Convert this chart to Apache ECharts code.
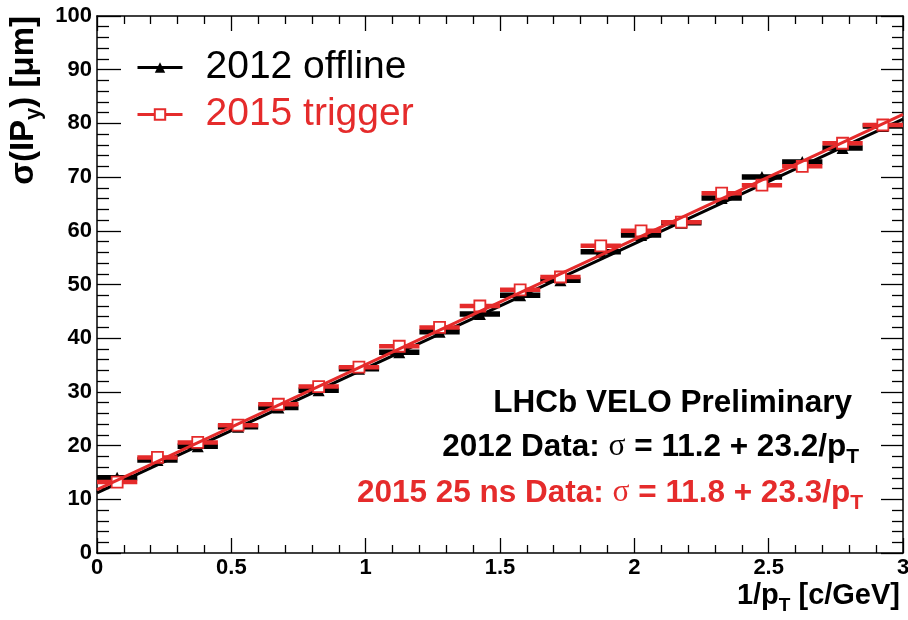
<!DOCTYPE html>
<html><head><meta charset="utf-8">
<script src="https://cdn.jsdelivr.net/npm/echarts@6/dist/echarts.min.js"></script>
<style>html,body{margin:0;padding:0;background:#fff}#c{width:908px;height:620px}</style>
</head><body><div id="c"></div>
<script>
// ---- data ----
const binCenters = [0.075,0.225,0.375,0.525,0.675,0.825,0.975,1.125,1.275,1.425,1.575,1.725,1.875,2.025,2.175,2.325,2.475,2.625,2.775,2.925];
const binHalfWidth = 0.075;
const offline2012 = [14.0,17.3,19.9,23.5,27.1,30.3,34.3,37.4,41.2,44.5,48.0,50.8,56.1,59.2,61.5,66.1,70.0,72.8,75.4,79.5];
const trigger2015 = [13.2,17.8,20.6,23.8,27.7,31.0,34.6,38.5,42.0,46.0,49.0,51.4,57.2,60.0,61.6,67.0,68.5,72.0,76.3,79.7];
const fit2012 = [[0,11.2],[3,80.8]];
const fit2015 = [[0,11.8],[3,81.7]];
const xRange = [0,3], xStep = 0.5;
const yRange = [0,100], yStep = 10;
const seriesNames = ['2012 offline','2015 trigger'];

const BLACK = '#000000', RED = '#e52b2b';
const FF = '"Liberation Sans", Arial, Helvetica, sans-serif';

const pts = (xs, ys) => xs.map((x,i)=>[x, ys[i]]);

function errBars(color, lw){
  return function(params, api){
    const x = api.value(0), y = api.value(1);
    const p1 = api.coord([x-binHalfWidth, y]);
    const p2 = api.coord([x+binHalfWidth, y]);
    return {type:'line', shape:{x1:p1[0],y1:p1[1],x2:p2[0],y2:p2[1]}, style:{stroke:color, lineWidth:lw}};
  };
}

// text measuring for sub-scripts
const cv = document.createElement('canvas').getContext('2d');
function tw(t, font){ cv.font = font; return cv.measureText(t).width; }
function composite(parts, x, yc, align){
  const ws = parts.map(p=>tw(p.t, p.font));
  const tot = ws.reduce((a,b)=>a+b,0);
  let cur = align==='right' ? x - tot : x;
  const els = [];
  parts.forEach((p,i)=>{
    els.push({type:'text', x:cur, y:yc+(p.dy||0), silent:true,
      style:{text:p.t, font:p.font, fill:p.color, align:'left', verticalAlign:'middle'}});
    cur += ws[i];
  });
  return {els, tot};
}

const annFont = 'bold 31.5px ' + FF;
const annSub = 'bold 21px ' + FF;
const sigFont = '31.5px "Liberation Serif", serif';
const line1 = composite([{t:'LHCb VELO Preliminary', font:annFont, color:BLACK}], 852, 403, 'right');
const line2 = composite([
  {t:'2012 Data: ', font:annFont, color:BLACK},
  {t:'\u03c3', font:sigFont, color:BLACK},
  {t:' = 11.2 + 23.2/p', font:annFont, color:BLACK},
  {t:'T', font:annSub, color:BLACK, dy:10}], 859, 447, 'right');
const line3 = composite([
  {t:'2015 25 ns Data: ', font:annFont, color:RED},
  {t:'\u03c3', font:sigFont, color:RED},
  {t:' = 11.8 + 23.3/p', font:annFont, color:RED},
  {t:'T', font:annSub, color:RED, dy:10}], 863, 493, 'right');

const xtFont = 'bold 29px ' + FF, xtSub = 'bold 19px ' + FF;
const xTitle = composite([
  {t:'1/p', font:xtFont, color:BLACK},
  {t:'T', font:xtSub, color:BLACK, dy:10},
  {t:' [c/GeV]', font:xtFont, color:BLACK}], 900, 596, 'right');

const ytFont = 'bold 33px ' + FF, ytSub = 'bold 22px ' + FF;
const yParts = [
  {t:'\u03c3(IP', font:ytFont, color:BLACK},
  {t:'y', font:ytSub, color:BLACK, dy:10},
  {t:') [\u03bcm]', font:ytFont, color:BLACK}];
const yT = composite(yParts, 0, 0, 'left');
const yTitleGroup = {type:'group', x:24, y:16 + yT.tot, rotation:Math.PI/2, children:yT.els};

const axisCommon = {
  axisLine:{show:true, onZero:false, lineStyle:{color:BLACK, width:1.5}},
  splitLine:{show:false},
  minorSplitLine:{show:false}
};

const option = {
  animation:false,
  backgroundColor:'#fff',
  grid:{left:97, right:5, top:16, bottom:67, containLabel:false, outerBoundsMode:'none'},
  xAxis:[
    Object.assign({type:'value', min:xRange[0], max:xRange[1], interval:xStep, position:'bottom',
      axisTick:{inside:true, length:15, lineStyle:{color:BLACK, width:1.3}},
      minorTick:{show:true, splitNumber:5, length:8, lineStyle:{color:BLACK, width:1.3}},
      axisLabel:{margin:4, color:BLACK, fontSize:22, fontWeight:'bold', fontFamily:FF,
        formatter:v=>String(+v.toFixed(1))}}, axisCommon),
    Object.assign({type:'value', min:xRange[0], max:xRange[1], interval:xStep, position:'top',
      axisTick:{inside:true, length:15, lineStyle:{color:BLACK, width:1.3}},
      minorTick:{show:true, splitNumber:5, length:8, lineStyle:{color:BLACK, width:1.3}},
      axisLabel:{show:false}}, axisCommon)
  ],
  yAxis:[
    Object.assign({type:'value', min:yRange[0], max:yRange[1], interval:yStep, position:'left',
      axisTick:{inside:true, length:24, lineStyle:{color:BLACK, width:1.3}},
      minorTick:{show:true, splitNumber:5, length:12, lineStyle:{color:BLACK, width:1.3}},
      axisLabel:{margin:5, color:BLACK, fontSize:22, fontWeight:'bold', fontFamily:FF}}, axisCommon),
    Object.assign({type:'value', min:yRange[0], max:yRange[1], interval:yStep, position:'right',
      axisTick:{inside:true, length:22, lineStyle:{color:BLACK, width:1.3}},
      minorTick:{show:true, splitNumber:5, length:11, lineStyle:{color:BLACK, width:1.3}},
      axisLabel:{show:false}}, axisCommon)
  ],
  legend:{
    orient:'vertical', left:131, top:43, itemWidth:45, itemHeight:13, itemGap:8,
    selectedMode:false,
    textStyle:{fontSize:39, fontFamily:FF, padding:[0,0,0,18]},
    data:[
      {name:seriesNames[0], textStyle:{color:BLACK}, lineStyle:{width:3, color:BLACK, opacity:1}},
      {name:seriesNames[1], textStyle:{color:RED}, lineStyle:{width:3, color:RED, opacity:1}}
    ]
  },
  series:[
    {type:'custom', name:'err2012', renderItem:errBars(BLACK,5.5), data:pts(binCenters, offline2012), z:2, silent:true},
    {type:'line', name:seriesNames[0], data:pts(binCenters, offline2012), symbol:'triangle', symbolSize:12,
      itemStyle:{color:BLACK}, lineStyle:{width:0, color:BLACK}, z:3, silent:true},
    {type:'line', name:'fit2012', data:fit2012, symbol:'none', lineStyle:{color:BLACK, width:3}, z:4, silent:true},
    {type:'custom', name:'err2015', renderItem:errBars(RED,4.5), data:pts(binCenters, trigger2015), z:5, silent:true},
    {type:'line', name:seriesNames[1], data:pts(binCenters, trigger2015), symbol:'rect', symbolSize:11,
      itemStyle:{color:'#fff', borderColor:RED, borderWidth:1.8}, lineStyle:{width:0, color:RED}, z:6, silent:true},
    {type:'line', name:'fit2015', data:fit2015, symbol:'none', lineStyle:{color:RED, width:3}, z:7, silent:true}
  ],
  graphic:[].concat(line1.els, line2.els, line3.els, xTitle.els, [yTitleGroup])
};

const chart = echarts.init(document.getElementById('c'), null, {renderer:'canvas'});
chart.setOption(option);
</script>
</body></html>
